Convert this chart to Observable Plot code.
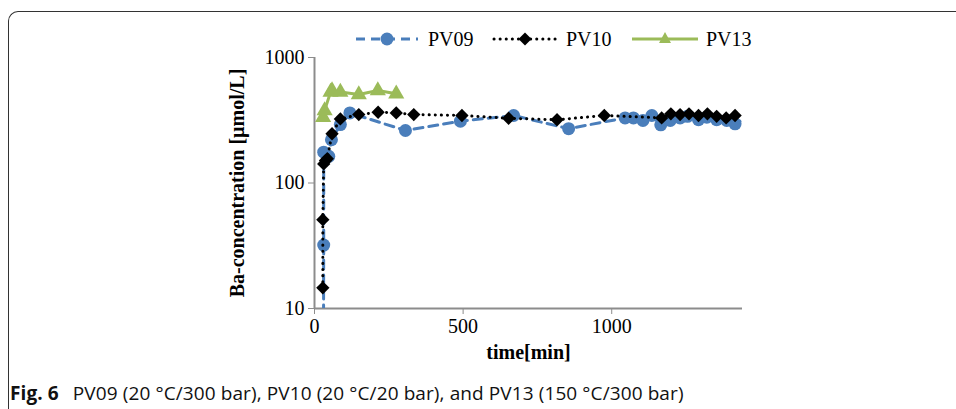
<!DOCTYPE html>
<html>
<head>
<meta charset="utf-8">
<script src="https://cdn.jsdelivr.net/npm/d3@7"></script>
<script src="https://cdn.jsdelivr.net/npm/@observablehq/plot@0.6"></script>
<style>
  html, body { margin: 0; padding: 0; background: #fff; }
  #wrap { position: relative; width: 956px; height: 409px; overflow: hidden; }
  #frame { position: absolute; left: 8px; top: 11px; width: 960px; height: 420px;
           border-top: 1.5px solid #333; border-left: 1.5px solid #333; border-top-left-radius: 10px; }
  #chart { position: absolute; left: 0; top: 0; }
  #legend { position: absolute; top: 26px; left: 0; width: 956px; height: 26px;
            font-family: "Liberation Serif", serif; font-size: 20px; }
  .lg { position: absolute; top: 0; display: flex; align-items: center; height: 26px; }
  .lg span { margin-left: 8px; }
  #caption { position: absolute; left: 10px; top: 380px; font-family: "Open Sans", sans-serif;
             font-size: 19px; line-height: normal; color: #111; white-space: nowrap; letter-spacing: 0.1px; }
  #caption b { margin-right: 9px; }
</style>
</head>
<body>
<div id="wrap">
  <div id="frame"></div>
  <div id="chart"></div>
  <div id="legend"></div>
  <div id="caption"><b>Fig. 6</b> PV09 (20 °C/300 bar), PV10 (20 °C/20 bar), and PV13 (150 °C/300 bar)</div>
</div>
<script>
// ---- data (time in min, Ba concentration in µmol/L) ----
const seriesNames = ["PV09", "PV10", "PV13"];
const pv09Time = [30, 31, 31, 48, 57, 87, 119, 306, 491, 670, 855, 1045, 1073, 1105, 1135, 1165, 1197, 1230, 1255, 1292, 1320, 1353, 1387, 1415, 1470];
const pv09Conc = [3, 32, 176, 163, 221, 292, 362, 262, 311, 345, 271, 330, 330, 315, 345, 291, 315, 330, 340, 319, 334, 319, 315, 296, 345];
const pv10Time = [28, 28, 31, 37, 43, 59, 87, 149, 214, 275, 334, 496, 653, 816, 975, 1168, 1199, 1230, 1260, 1292, 1322, 1353, 1385, 1415, 1470];
const pv10Conc = [14.6, 51, 142, 151, 156, 247, 324, 351, 366, 362, 351, 345, 328, 319, 345, 330, 356, 351, 356, 345, 356, 340, 330, 345, 345];
const pv13Time = [29, 34, 54, 59, 87, 149, 213, 275];
const pv13Conc = [334, 378, 530, 546, 530, 507, 546, 514];
const xTicks = [0, 500, 1000];
const yTicks = [10, 100, 1000];
const colors = {PV09: "#4a7ebb", PV10: "#000000", PV13: "#9bbb59"};

const pv09 = pv09Time.map((t, i) => ({t, c: pv09Conc[i]}));
const pv10 = pv10Time.map((t, i) => ({t, c: pv10Conc[i]}));
const pv13 = pv13Time.map((t, i) => ({t, c: pv13Conc[i]}));

const axisColor = "#8c8c8c";
const chart = Plot.plot({
  width: 956,
  height: 370,
  marginLeft: 314,
  marginRight: 214,
  marginTop: 57,
  marginBottom: 62,
  style: {fontFamily: "Liberation Serif, serif", fontSize: "20px", color: "#000", background: "transparent"},
  x: {domain: [0, 1440]},
  y: {type: "log", domain: [10, 1000]},
  marks: [
    Plot.axisX({ticks: xTicks, tickSize: 6, tickPadding: 4, stroke: axisColor, fontSize: 20,
                tickFormat: d => String(d),
                label: "time[min]", labelAnchor: "center", labelArrow: "none", labelOffset: 50}),
    Plot.axisY({ticks: yTicks, tickSize: 6, tickPadding: 4, stroke: axisColor, fontSize: 20,
                tickFormat: d => String(d),
                label: "Ba-concentration [µmol/L]", labelAnchor: "center", labelArrow: "none", labelOffset: 85}),
    Plot.ruleX([0], {stroke: axisColor, strokeWidth: 2}),
    Plot.ruleY([10], {stroke: axisColor, strokeWidth: 2}),
    Plot.line(pv09, {x: "t", y: "c", stroke: colors.PV09, strokeWidth: 3, strokeDasharray: "9,6", clip: true}),
    Plot.dot(pv09, {x: "t", y: "c", fill: colors.PV09, r: 6.5, clip: true}),
    Plot.line(pv10, {x: "t", y: "c", stroke: colors.PV10, strokeWidth: 3, strokeDasharray: "0.1,6", strokeLinecap: "round", clip: true}),
    Plot.dot(pv10, {x: "t", y: "c", fill: colors.PV10, symbol: "diamond2", r: 6, clip: true}),
    Plot.line(pv13, {x: "t", y: "c", stroke: colors.PV13, strokeWidth: 3}),
    Plot.dot(pv13, {x: "t", y: "c", fill: colors.PV13, symbol: "triangle", r: 6})
  ]
});
chart.querySelectorAll('[aria-label="y-axis label"] text, [aria-label="x-axis label"] text').forEach(t => t.setAttribute("font-weight", "bold"));
document.getElementById("chart").appendChild(chart);

// legend
const legendItems = [
  {name: "PV09", left: 354, svg: `<line x1="2" y1="13" x2="64" y2="13" stroke="${colors.PV09}" stroke-width="3" stroke-dasharray="9,6"/><circle cx="33" cy="13" r="6.5" fill="${colors.PV09}"/>`},
  {name: "PV10", left: 492, svg: `<line x1="2" y1="13" x2="64" y2="13" stroke="#000" stroke-width="3" stroke-dasharray="0.1,6" stroke-linecap="round"/><path d="M33,6.5L39.5,13L33,19.5L26.5,13Z" fill="#000"/>`},
  {name: "PV13", left: 632, svg: `<line x1="0" y1="13" x2="66" y2="13" stroke="${colors.PV13}" stroke-width="3"/><path d="M33,6L39,17L27,17Z" fill="${colors.PV13}"/>`}
];
const lg = document.getElementById("legend");
legendItems.forEach(it => {
  const d = document.createElement("div");
  d.className = "lg";
  d.style.left = it.left + "px";
  d.innerHTML = `<svg width="66" height="26">${it.svg}</svg><span>${it.name}</span>`;
  lg.appendChild(d);
});
</script>
</body>
</html>
